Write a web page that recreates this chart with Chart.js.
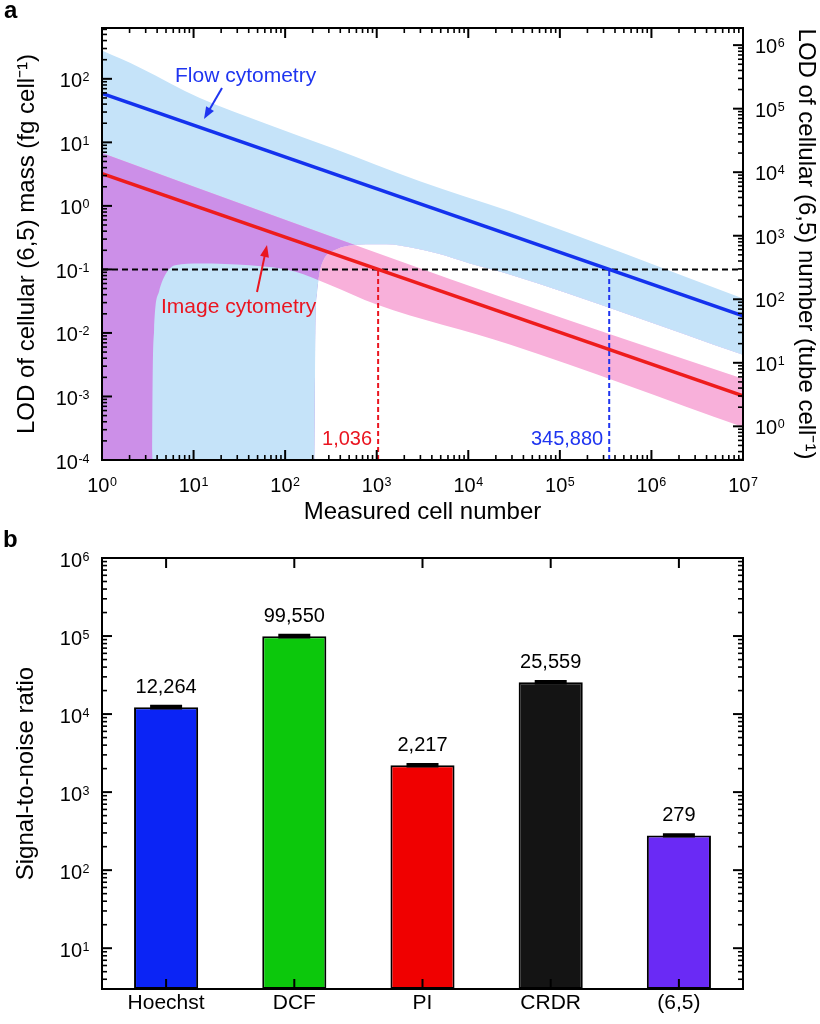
<!DOCTYPE html>
<html><head><meta charset="utf-8">
<script src="https://cdn.jsdelivr.net/npm/chart.js@4.4.1/dist/chart.umd.min.js"></script>
<style>
html,body{margin:0;padding:0;background:#fff;width:820px;height:1024px;overflow:hidden}
#ca{position:absolute;left:0;top:0}
#cb{position:absolute;left:0;top:530px}
</style></head><body>
<canvas id="ca" width="820" height="530"></canvas>
<canvas id="cb" width="820" height="494"></canvas>
<script>
// ---------- Panel a data ----------
const lineX = [1, 1e7];
const flowLOD = [58.8, 0.0186];
const imageLOD = [3.22, 0.00102];
const flowUpperX = [1, 2.6, 11.7, 63, 333, 2960, 28400, 1e7];
const flowUpper = [278, 150, 50, 19.5, 8.1, 2.45, 0.82, 0.0348];
const flowLowerX = [1, 200, 211, 214, 222, 235, 259, 368, 550, 844, 1292, 2303, 4540, 10400, 28400, 1e7];
const flowLower = [1e-9, 1e-9, 1e-4, 0.01, 0.04, 0.08, 0.134, 0.207, 0.239, 0.248, 0.248, 0.223, 0.179, 0.124, 0.0834, 0.00454];
const imageUpperX = [1, 68, 28400, 1e7];
const imageUpper = [6.8, 0.74, 0.033, 0.0019];
const imageLowerX = [1, 3.5, 3.55, 3.7, 4.2, 5, 6.3, 11.7, 41, 128, 300, 1000, 28400, 1e7];
const imageLower = [1e-9, 1e-9, 1e-4, 0.0105, 0.045, 0.086, 0.116, 0.124, 0.116, 0.093, 0.058, 0.028, 0.0066, 0.00033];
const lodThreshold = 0.1;
const imageCells = 1036;
const flowCells = 345880;
const massToNumber = 2950;
const xTicksA = [1, 10, 100, 1e3, 1e4, 1e5, 1e6, 1e7];
const yTicksA = [1e-4, 1e-3, 1e-2, 1e-1, 1, 10, 100];
const y2TicksA = [1, 10, 100, 1e3, 1e4, 1e5, 1e6];

// ---------- Panel b data ----------
const probes = ['Hoechst', 'DCF', 'PI', 'CRDR', '(6,5)'];
const snr = [12264, 99550, 2217, 25559, 279];
const snrErr = [300, 2500, 50, 600, 6];
const yTicksB = [10, 100, 1e3, 1e4, 1e5, 1e6];

// ---------- styles ----------
const FF = "'Liberation Sans', Arial, Helvetica, sans-serif";
Chart.defaults.font.family = FF;
Chart.defaults.color = '#000';
const LB = '#c5e3f9', PINK = '#f8b0da', PURPLE = '#cc8fe8';
const BLUE = '#1432ee', RED = '#ee1c1c';
const BLUE_T = '#1f35f0', RED_T = '#ea1520';
const barColors = ['#0b24f5', '#0cc80c', '#f00000', '#141414', '#6a2af5'];

function fmt(v){ return String(v).replace(/\B(?=(\d{3})+(?!\d))/g, ','); }
function pts(xs, ys){ return xs.map((x, i) => ({x: x, y: ys[i]})); }

// "10" with a raised exponent, drawn at a tick position given by the library's scale
function powLabel(ctx, v, x, base, align){
  const e = String(Math.round(Math.log10(v)));
  ctx.font = '20px ' + FF; const w1 = ctx.measureText('10').width;
  ctx.font = '12.5px ' + FF; const w2 = ctx.measureText(e).width;
  const W = w1 + 0.5 + w2;
  const x0 = align === 'right' ? x - W : align === 'center' ? x - W / 2 : x;
  ctx.textAlign = 'left'; ctx.textBaseline = 'alphabetic'; ctx.fillStyle = '#000';
  ctx.font = '20px ' + FF; ctx.fillText('10', x0, base);
  ctx.font = '12.5px ' + FF; ctx.fillText(e, x0 + w1 + 0.5, base - 6);
}
function axisLabels(ctx, scale, side, area){
  scale.ticks.forEach(t => {
    const p = scale.getPixelForValue(t.value);
    if (side === 'left') powLabel(ctx, t.value, area.left - 12.5, p + 8.5, 'right');
    else if (side === 'right') powLabel(ctx, t.value, area.right + 12, p + 8, 'left');
    else powLabel(ctx, t.value, p, area.bottom + 32, 'center');
  });
}
function logTicks(ctx, scale, side, area){
  const lo = Math.floor(Math.log10(scale.min)), hi = Math.ceil(Math.log10(scale.max));
  for (let d = lo; d <= hi; d++) {
    for (let m = 1; m <= 9; m++) {
      const v = m * Math.pow(10, d);
      if (v < scale.min * 0.999 || v > scale.max * 1.001) continue;
      const len = m === 1 ? 10 : 5;
      const p = scale.getPixelForValue(v);
      ctx.lineWidth = m === 1 ? 2 : 1.6;
      ctx.beginPath();
      if (side === 'bottom') { ctx.moveTo(p, area.bottom); ctx.lineTo(p, area.bottom - len); }
      else if (side === 'top') { ctx.moveTo(p, area.top); ctx.lineTo(p, area.top + len); }
      else if (side === 'left') { ctx.moveTo(area.left, p); ctx.lineTo(area.left + len, p); }
      else { ctx.moveTo(area.right, p); ctx.lineTo(area.right - len, p); }
      ctx.stroke();
    }
  }
}
function arrow(ctx, x1, y1, x2, y2, color){
  const a = Math.atan2(y2 - y1, x2 - x1), L = 12, W = 4.5;
  ctx.strokeStyle = color; ctx.fillStyle = color; ctx.lineWidth = 2;
  ctx.beginPath(); ctx.moveTo(x1, y1); ctx.lineTo(x2 - L * 0.8 * Math.cos(a), y2 - L * 0.8 * Math.sin(a)); ctx.stroke();
  ctx.beginPath(); ctx.moveTo(x2, y2);
  ctx.lineTo(x2 - L * Math.cos(a) + W * Math.sin(a), y2 - L * Math.sin(a) - W * Math.cos(a));
  ctx.lineTo(x2 - L * Math.cos(a) - W * Math.sin(a), y2 - L * Math.sin(a) + W * Math.cos(a));
  ctx.closePath(); ctx.fill();
}

const decoA = {
  id: 'decoA',
  afterDraw(chart){
    const ctx = chart.ctx, a = chart.chartArea, sx = chart.scales.x, sy = chart.scales.y, sy2 = chart.scales.y2;
    ctx.save();
    ctx.strokeStyle = '#000';
    logTicks(ctx, sx, 'bottom', a); logTicks(ctx, sx, 'top', a);
    logTicks(ctx, sy, 'left', a); logTicks(ctx, sy2, 'right', a);
    ctx.lineWidth = 2; ctx.strokeRect(a.left, a.top, a.right - a.left, a.bottom - a.top);
    axisLabels(ctx, sx, 'bottom', a); axisLabels(ctx, sy, 'left', a); axisLabels(ctx, sy2, 'right', a);
    // annotations
    ctx.font = '21px ' + FF; ctx.textBaseline = 'alphabetic'; ctx.textAlign = 'left';
    ctx.fillStyle = BLUE_T; ctx.fillText('Flow cytometry', 175, 82);
    arrow(ctx, 222, 88, 204, 119, BLUE_T);
    ctx.fillStyle = RED_T; ctx.fillText('Image cytometry', 161, 313);
    arrow(ctx, 257, 292, 267, 245, RED_T);
    ctx.font = '20px ' + FF; ctx.textAlign = 'right';
    ctx.fillStyle = RED_T; ctx.fillText(fmt(imageCells), sx.getPixelForValue(imageCells) - 6, 445);
    ctx.fillStyle = BLUE_T; ctx.fillText(fmt(flowCells), sx.getPixelForValue(flowCells) - 6, 445);
    ctx.fillStyle = '#000'; ctx.textAlign = 'left'; ctx.font = 'bold 24px ' + FF;
    ctx.fillText('a', 4, 18);
    ctx.restore();
  }
};

const hidden = {borderWidth: 0, pointRadius: 0, fill: false};
new Chart(document.getElementById('ca'), {
  type: 'line',
  data: {datasets: [
    {data: pts(flowUpperX, flowUpper), borderWidth: 0, pointRadius: 0, cubicInterpolationMode: 'monotone', fill: {target: 1, above: LB, below: LB}, order: 10},
    Object.assign({data: pts(flowLowerX, flowLower), cubicInterpolationMode: 'monotone', order: 10}, hidden),
    {data: pts(imageUpperX, imageUpper), borderWidth: 0, pointRadius: 0, cubicInterpolationMode: 'monotone', fill: {target: 3, above: PINK, below: PINK}, order: 9},
    Object.assign({data: pts(imageLowerX, imageLower), cubicInterpolationMode: 'monotone', order: 9}, hidden),
    {data: pts(imageUpperX, imageUpper), borderWidth: 0, pointRadius: 0, cubicInterpolationMode: 'monotone', fill: {target: 1, above: PURPLE, below: 'rgba(0,0,0,0)'}, order: 8},
    {data: pts(imageLowerX, imageLower), borderWidth: 0, pointRadius: 0, cubicInterpolationMode: 'monotone', fill: {target: 1, above: LB, below: 'rgba(0,0,0,0)'}, order: 7},
    {data: pts([1, 1e7], [lodThreshold, lodThreshold]), borderColor: '#000', borderWidth: 2, borderDash: [6, 4], pointRadius: 0, fill: false, order: 3},
    {data: pts([imageCells, imageCells], [1e-4, lodThreshold]), borderColor: RED_T, borderWidth: 2, borderDash: [5, 3], pointRadius: 0, fill: false, order: 3},
    {data: pts([flowCells, flowCells], [1e-4, lodThreshold]), borderColor: BLUE_T, borderWidth: 2, borderDash: [5, 3], pointRadius: 0, fill: false, order: 3},
    {data: pts(lineX, flowLOD), borderColor: BLUE, borderWidth: 3.5, pointRadius: 0, fill: false, order: 1},
    {data: pts(lineX, imageLOD), borderColor: RED, borderWidth: 3.5, pointRadius: 0, fill: false, order: 1}
  ]},
  options: {
    responsive: false, animation: false, devicePixelRatio: 1,
    layout: {padding: {top: 28, left: 0, right: 0, bottom: 0}},
    plugins: {legend: {display: false}, tooltip: {enabled: false}},
    scales: {
      x: {type: 'logarithmic', position: 'bottom', min: 1, max: 1e7,
        afterBuildTicks: s => { s.ticks = xTicksA.map(v => ({value: v})); },
        afterFit: s => { s.height = 70; },
        grid: {display: false, drawTicks: false}, border: {display: false},
        ticks: {display: false},
        title: {display: true, text: 'Measured cell number', font: {size: 24}, color: '#000', padding: {top: 0, bottom: 3}}
      },
      y: {type: 'logarithmic', position: 'left', min: 1e-4, max: Math.pow(10, 2.8),
        afterBuildTicks: s => { s.ticks = yTicksA.map(v => ({value: v})); },
        afterFit: s => { s.width = 102; },
        grid: {display: false, drawTicks: false}, border: {display: false},
        ticks: {display: false},
        title: {display: true, text: 'LOD of cellular (6,5) mass (fg cell\u207B\u00B9)', font: {size: 24}, color: '#000', padding: {top: 13, bottom: 0}}
      },
      y2: {type: 'logarithmic', position: 'right', min: 1e-4 * massToNumber, max: Math.pow(10, 2.8) * massToNumber,
        afterBuildTicks: s => { s.ticks = y2TicksA.map(v => ({value: v})); },
        afterFit: s => { s.width = 77; },
        grid: {display: false, drawTicks: false}, border: {display: false},
        ticks: {display: false},
        title: {display: true, text: 'LOD of cellular (6,5) number (tube cell\u207B\u00B9)', font: {size: 24}, color: '#000', padding: {top: 0, bottom: 0}}
      }
    }
  },
  plugins: [decoA]
});

const decoB = {
  id: 'decoB',
  afterDraw(chart){
    const ctx = chart.ctx, a = chart.chartArea, sx = chart.scales.x, sy = chart.scales.y;
    const meta = chart.getDatasetMeta(0);
    ctx.save();
    ctx.strokeStyle = '#000';
    logTicks(ctx, sy, 'left', a); logTicks(ctx, sy, 'right', a);
    ctx.lineWidth = 2;
    for (let i = 0; i < probes.length; i++) {
      const p = sx.getPixelForValue(i);
      ctx.beginPath(); ctx.moveTo(p, a.bottom); ctx.lineTo(p, a.bottom - 10); ctx.stroke();
      ctx.beginPath(); ctx.moveTo(p, a.top); ctx.lineTo(p, a.top + 10); ctx.stroke();
    }
    // error bars and value labels
    meta.data.forEach((bar, i) => {
      const yt = sy.getPixelForValue(snr[i] + snrErr[i]);
      const yb = sy.getPixelForValue(snr[i] - snrErr[i]);
      ctx.lineWidth = 3; ctx.strokeStyle = '#000';
      ctx.beginPath();
      ctx.moveTo(bar.x - 16, yt); ctx.lineTo(bar.x + 16, yt);
      ctx.moveTo(bar.x - 16, yb); ctx.lineTo(bar.x + 16, yb);
      ctx.moveTo(bar.x, yt); ctx.lineTo(bar.x, yb);
      ctx.stroke();
      ctx.fillStyle = '#000'; ctx.font = '20px ' + FF; ctx.textAlign = 'center'; ctx.textBaseline = 'alphabetic';
      ctx.fillText(fmt(snr[i]), bar.x, bar.y - 14);
    });
    ctx.lineWidth = 2; ctx.strokeRect(a.left, a.top, a.right - a.left, a.bottom - a.top);
    axisLabels(ctx, sy, 'left', a);
    ctx.fillStyle = '#000'; ctx.textAlign = 'left'; ctx.font = 'bold 24px ' + FF;
    ctx.fillText('b', 3, 17);
    ctx.restore();
  }
};

new Chart(document.getElementById('cb'), {
  type: 'bar',
  data: {labels: probes, datasets: [{data: snr, backgroundColor: barColors, borderColor: '#000', borderWidth: 2, borderSkipped: false, barPercentage: 0.5, categoryPercentage: 1.0}]},
  options: {
    responsive: false, animation: false, devicePixelRatio: 1,
    layout: {padding: {top: 28, left: 0, right: 77, bottom: 0}},
    plugins: {legend: {display: false}, tooltip: {enabled: false}},
    scales: {
      x: {grid: {display: false, drawTicks: false}, border: {display: false},
        afterFit: s => { s.height = 35; },
        ticks: {font: {size: 21}, color: '#000', padding: 2, maxRotation: 0, autoSkip: false}
      },
      y: {type: 'logarithmic', min: 3, max: 1e6,
        afterBuildTicks: s => { s.ticks = yTicksB.map(v => ({value: v})); },
        afterFit: s => { s.width = 102; },
        grid: {display: false, drawTicks: false}, border: {display: false},
        ticks: {display: false},
        title: {display: true, text: 'Signal-to-noise ratio', font: {size: 24}, color: '#000', padding: {top: 12, bottom: 0}}
      }
    }
  },
  plugins: [decoB]
});
</script>
</body></html>
